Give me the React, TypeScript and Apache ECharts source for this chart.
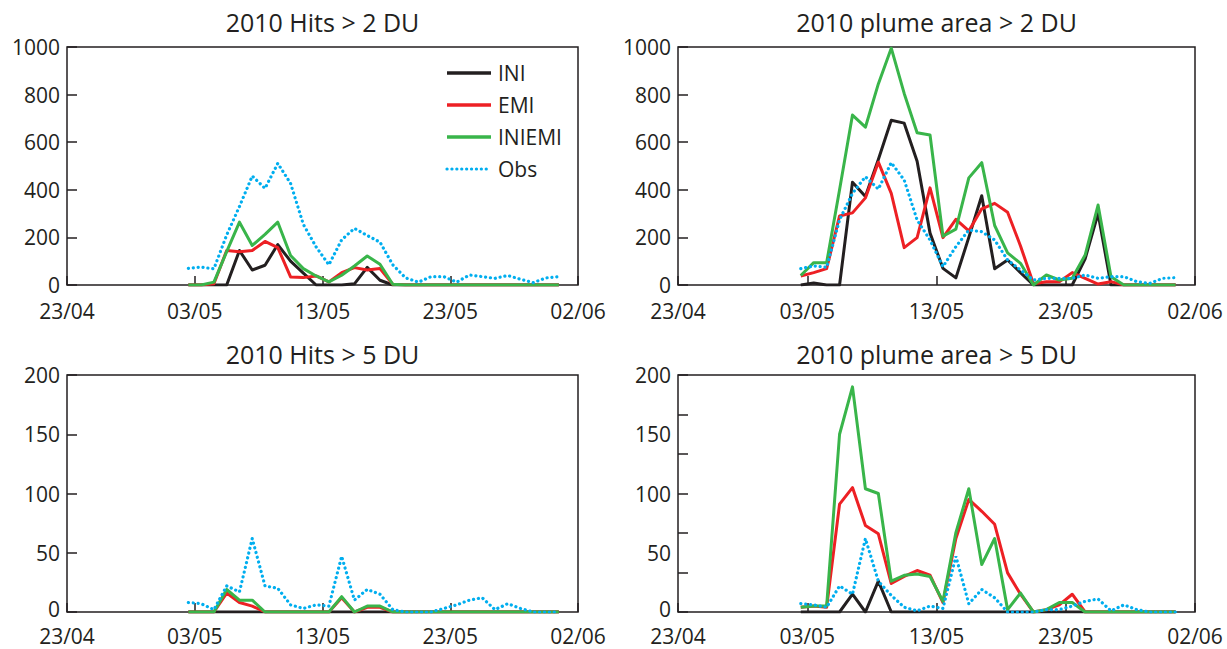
import React, { useEffect, useRef } from "react";
import * as echarts from "echarts";

const dates = [
  "02/05","03/05","04/05","05/05","06/05","07/05","08/05","09/05","10/05","11/05",
  "12/05","13/05","14/05","15/05","16/05","17/05","18/05","19/05","20/05","21/05",
  "22/05","23/05","24/05","25/05","26/05","27/05","28/05","29/05","30/05","31/05",
];
const xTickLabels = ["23/04", "03/05", "13/05", "23/05", "02/06"];
const seriesNames = ["INI", "EMI", "INIEMI", "Obs"];
const panelTitles = ["2010 Hits > 2 DU", "2010 plume area > 2 DU", "2010 Hits > 5 DU", "2010 plume area > 5 DU"];

// Hits > 2 DU
const hits2INI = [0,0,0,0,145,63,83,170,100,50,0,0,0,5,74,20,0,0,0,0,0,0,0,0,0,0,0,0,0,0];
const hits2EMI = [0,0,5,145,140,145,183,157,34,31,38,13,52,73,63,69,3,0,0,0,0,0,0,0,0,0,0,0,0,0];
const hits2INIEMI = [0,0,12,140,264,166,213,264,124,69,38,13,41,80,122,87,3,0,0,0,0,0,0,0,0,0,0,0,0,0];
const hits2Obs = [70,75,68,210,330,458,406,511,427,255,160,85,190,238,208,180,85,30,12,35,35,12,42,35,28,40,24,10,30,35];

// plume area > 2 DU
const area2INI = [0,8,0,0,432,372,527,692,680,520,218,70,30,200,375,68,105,52,0,0,0,0,110,300,0,0,0,0,0,0];
const area2EMI = [38,52,69,290,303,366,516,385,157,199,408,199,276,227,320,343,306,164,5,14,14,52,28,4,14,0,0,0,0,0];
const area2INIEMI = [40,94,94,400,714,663,845,995,805,640,630,205,235,450,514,250,135,91,0,42,21,28,126,336,35,0,0,0,0,0];
const area2Obs = [69,80,74,274,385,455,403,514,441,273,189,77,161,231,224,189,105,63,21,28,28,28,42,28,35,35,14,7,28,31];

// Hits > 5 DU
const hits5INI = [0,0,0,0,0,0,0,0,0,0,0,0,0,0,0,0,0,0,0,0,0,0,0,0,0,0,0,0,0,0];
const hits5EMI = [0,0,0,16,8,5,0,0,0,0,0,0,12,0,4,4,0,0,0,0,0,0,0,0,0,0,0,0,0,0];
const hits5INIEMI = [0,0,0,19,10,10,0,0,0,0,0,0,13,0,5,5,0,0,0,0,0,0,0,0,0,0,0,0,0,0];
const hits5Obs = [8,7,2,22,17,62,22,20,6,3,6,5,47,10,19,15,2,0,0,0,3,6,10,12,2,7,3,0,0,0];

// plume area > 5 DU
const area5INI = [0,0,0,0,15,0,26,0,0,0,0,0,0,0,0,0,0,0,0,0,0,0,0,0,0,0,0,0,0,0];
const area5EMI = [4,5,4,91,105,73,66,24,30,35,31,8,62,95,85,74,33,15,0,2,6,15,0,0,0,0,0,0,0,0];
const area5INIEMI = [4,5,5,150,190,104,100,26,31,32,30,9,67,104,40,62,2,16,0,2,8,8,0,0,0,0,0,0,0,0];
const area5Obs = [7,6,4,22,15,62,26,14,4,1,5,3,47,7,19,12,0,0,0,2,2,5,9,11,1,6,2,0,0,0];

const panelData = [
  [hits2INI, hits2EMI, hits2INIEMI, hits2Obs],
  [area2INI, area2EMI, area2INIEMI, area2Obs],
  [hits5INI, hits5EMI, hits5INIEMI, hits5Obs],
  [area5INI, area5EMI, area5INIEMI, area5Obs],
];
const yMax = [1000, 1000, 200, 200];
const yLabelStep = [200, 200, 50, 50];
const yTickStep = [200, 200, 50, 200 / 6];

const INK = "#231f20";
const COLORS = [INK, "#ed2024", "#39b54a", "#00aeef"];
const FONT = "Open Sans";

const grids = [
  { left: 67, top: 47, width: 511, height: 238 },
  { left: 678, top: 47, width: 517, height: 238 },
  { left: 67, top: 375, width: 511, height: 237 },
  { left: 678, top: 375, width: 517, height: 237 },
];

function dayX(d: string): number {
  const [dd, mm] = d.split("/").map(Number);
  return (Date.UTC(2010, mm - 1, dd) - Date.UTC(2010, 3, 23)) / 86400000 + 0.5;
}

export default function App() {
  const ref = useRef<HTMLDivElement>(null);
  useEffect(() => {
    if (!ref.current) return;
    const chart = echarts.init(ref.current, null, { renderer: "svg" });
    const xAxis: any[] = [];
    const yAxis: any[] = [];
    const series: any[] = [];
    grids.forEach((g, p) => {
      xAxis.push({
        type: "value", gridIndex: p, min: 0, max: 40, interval: 10,
        axisLine: { show: false },
        axisTick: { show: true, inside: true, length: 9, lineStyle: { color: INK, width: 1.5 } },
        splitLine: { show: false },
        axisLabel: {
          color: INK, fontSize: 21, fontFamily: FONT, margin: p < 2 ? 15 : 13, lineHeight: 21,
          formatter: (v: number) => xTickLabels[Math.round(v / 10)] ?? "",
        },
      });
      yAxis.push({
        type: "value", gridIndex: p, min: 0, max: yMax[p], interval: yLabelStep[p],
        axisLine: { show: false },
        axisTick: { show: yTickStep[p] === yLabelStep[p], inside: true, length: 10, lineStyle: { color: INK, width: 1.5 } },
        splitLine: { show: false },
        axisLabel: {
          color: INK, fontSize: 21, fontFamily: FONT, margin: 7, lineHeight: 20,
          formatter: (v: number) => (p >= 2 && v === 0 ? "{z|0}" : String(v)),
          rich: { z: { color: INK, fontSize: 21, fontFamily: FONT, lineHeight: 20, padding: [0, 0, 6, 0] } },
        },
      });
    });
    // tick-only axis for panel 4
    yAxis.push({
      type: "value", gridIndex: 3, min: 0, max: 200, interval: yTickStep[3], position: "left",
      axisLine: { show: false },
      axisTick: { show: true, inside: true, length: 10, lineStyle: { color: INK, width: 1.5 } },
      splitLine: { show: false },
      axisLabel: { show: false },
    });
    panelData.forEach((arrs, p) => {
      arrs.forEach((vals, s) => {
        series.push({
          type: "line", name: seriesNames[s], xAxisIndex: p, yAxisIndex: p,
          data: dates.map((d, i) => [dayX(d), vals[i]]),
          symbol: "none", silent: true, z: 2 + s,
          lineStyle: s === 3
            ? { color: COLORS[s], width: 3.2, type: [0.1, 4.8], cap: "round" }
            : { color: COLORS[s], width: 3, join: "round" },
        });
      });
    });
    const graphic: any[] = [];
    grids.forEach((g, p) => {
      graphic.push({
        type: "text", x: g.left + g.width / 2, y: p < 2 ? 22 : 354,
        style: { text: panelTitles[p], fill: INK, font: `25px "${FONT}"`, align: "center", verticalAlign: "middle" },
      });
    });
    const legY = [73, 105, 137, 169];
    seriesNames.forEach((n, s) => {
      graphic.push({
        type: "line", shape: { x1: 447, y1: legY[s], x2: 491, y2: legY[s] },
        style: s === 3
          ? { stroke: COLORS[s], lineWidth: 3.2, lineDash: [0.1, 4.8], lineCap: "round" }
          : { stroke: COLORS[s], lineWidth: 3.5 },
      });
      graphic.push({
        type: "text", x: 498, y: legY[s],
        style: { text: n, fill: INK, font: `21px "${FONT}"`, align: "left", verticalAlign: "middle" },
      });
    });
    chart.setOption({
      animation: false,
      backgroundColor: "#ffffff",
      grid: grids.map((g) => ({ ...g, show: true, borderColor: INK, borderWidth: 1.5, backgroundColor: "transparent" })),
      xAxis, yAxis, series, graphic,
    });
    return () => chart.dispose();
  }, []);
  return <div ref={ref} style={{ position: "absolute", left: 0, top: 0, width: 1227, height: 649 }} />;
}
